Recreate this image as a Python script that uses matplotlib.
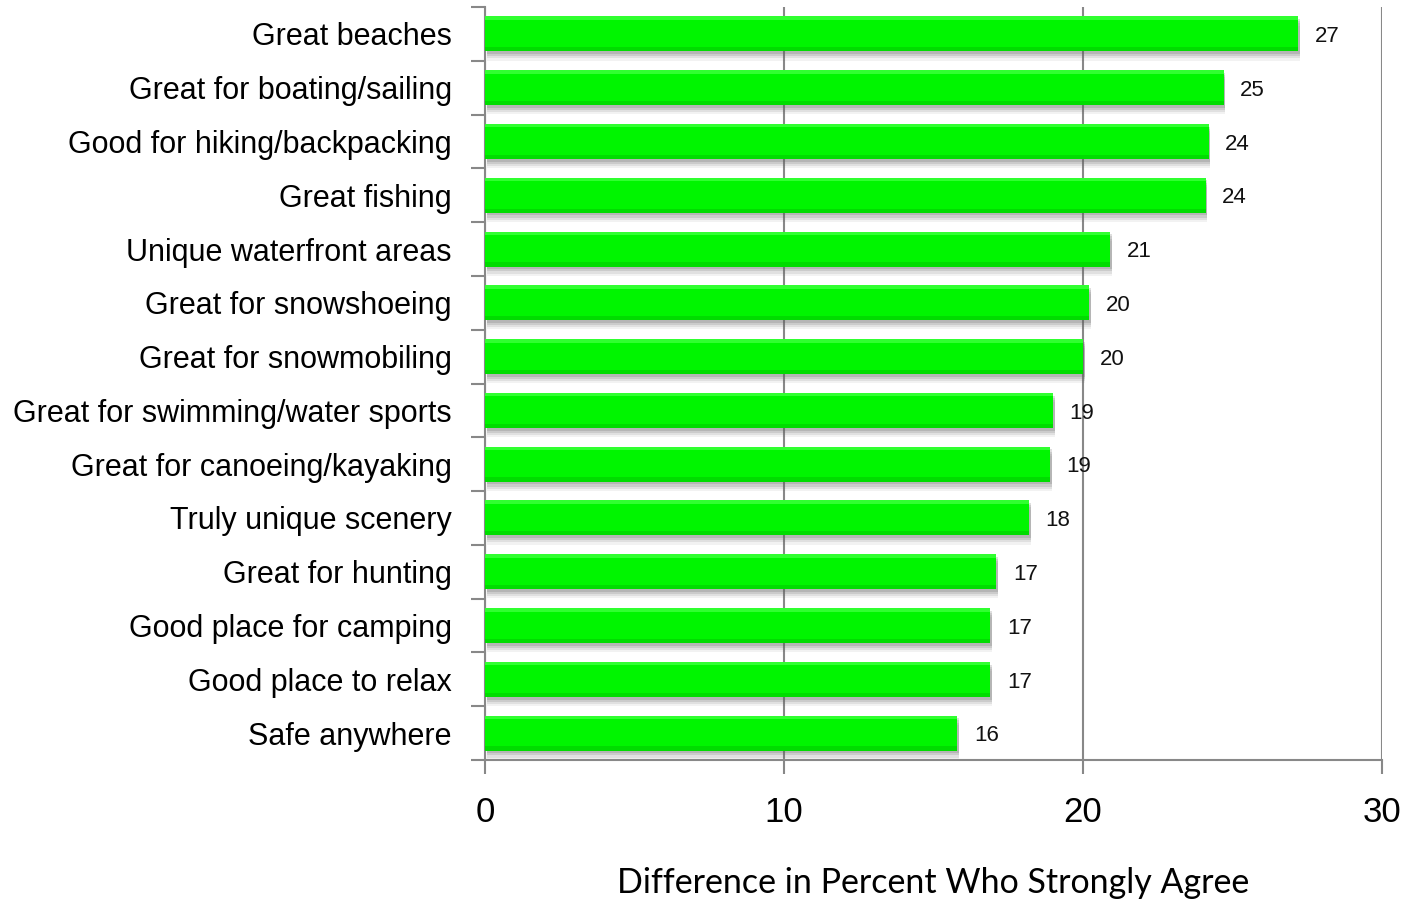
import matplotlib
matplotlib.use("Agg")
import matplotlib.pyplot as plt
import numpy as np

categories = [
    "Great beaches",
    "Great for boating/sailing",
    "Good for hiking/backpacking",
    "Great fishing",
    "Unique waterfront areas",
    "Great for snowshoeing",
    "Great for snowmobiling",
    "Great for swimming/water sports",
    "Great for canoeing/kayaking",
    "Truly unique scenery",
    "Great for hunting",
    "Good place for camping",
    "Good place to relax",
    "Safe anywhere",
]
values = [27.2, 24.7, 24.2, 24.1, 20.9, 20.2, 20.0, 19.0, 18.9, 18.2, 17.1, 16.9, 16.9, 15.8]
value_labels = ["27", "25", "24", "24", "21", "20", "20", "19", "19", "18", "17", "17", "17", "16"]
x_ticks = [0, 10, 20, 30]
x_label = "Difference in Percent Who Strongly Agree"

cat_font = ["Liberation Sans", "DejaVu Sans"]
num_font = ["Liberation Sans", "DejaVu Sans"]

fig = plt.figure(figsize=(14.11, 8.99), dpi=100)
ax = fig.add_axes([0.3437, 0.1546, 0.6358, 0.8376])

y = np.arange(len(categories))
bh = 0.65

# soft shadow below bars
for off, a in [(0.17, 0.08), (0.13, 0.12), (0.09, 0.16), (0.05, 0.2)]:
    ax.barh(y + off, values, height=bh, left=0.06, color="#606060", alpha=a,
            linewidth=0, zorder=2)
ax.barh(y, values, height=bh, color="#00f500", linewidth=0, zorder=3)
ax.barh(y + bh * 0.44, values, height=bh * 0.12, color="#00dc00", linewidth=0, zorder=3.5)
ax.barh(y - bh * 0.45, values, height=bh * 0.10, color="#30ff30", linewidth=0, zorder=3.5)

for yi, v, lab in zip(y, values, value_labels):
    ax.text(v + 0.55, yi + 0.05, lab, va="center", ha="left", fontsize=16,
            family=num_font, color="#111111", zorder=5)

ax.set_xlim(0, 30)
ax.set_ylim(len(categories) - 0.5, -0.5)

ax.set_yticks(y)
ax.set_yticklabels(categories, family=cat_font, fontsize=22)
ax.tick_params(axis="y", which="major", length=0, pad=24)
ax.set_yticks(np.arange(len(categories) + 1) - 0.5, minor=True)
ax.tick_params(axis="y", which="minor", length=10, width=1.5, color="#888888")

ax.set_xticks(x_ticks)
ax.set_xticklabels([str(t) for t in x_ticks], family=num_font, fontsize=25)
ax.tick_params(axis="x", length=10, width=1.5, color="#888888", pad=16)

ax.grid(axis="x", color="#888888", linewidth=1.5, zorder=1)
ax.set_axisbelow(True)
for s in ["top", "right"]:
    ax.spines[s].set_visible(False)
for s in ["left", "bottom"]:
    ax.spines[s].set_color("#888888")
    ax.spines[s].set_linewidth(1.5)

ax.set_xlabel(x_label, family=["Lato", "DejaVu Sans"], fontsize=24.5, labelpad=27)

fig.savefig("out.png", dpi=100)
